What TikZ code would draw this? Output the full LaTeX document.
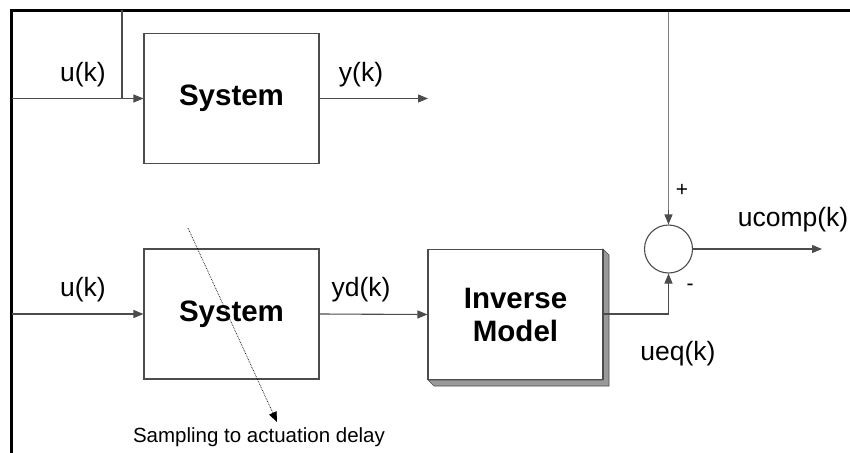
\documentclass[tikz,border=0pt]{standalone}
\usepackage{fontspec}
\setmainfont{Liberation Sans}
\usetikzlibrary{arrows.meta}
\begin{document}
\begin{tikzpicture}[x=1pt,y=-1pt,
  wire/.style={draw=black!70,line width=1.1pt},
  arr/.style={wire,-{Triangle[length=10pt,width=8pt]}},
  blk/.style={draw=black!70,line width=1.1pt,fill=white,minimum width=175pt,minimum height=130pt,inner sep=0pt,font=\fontsize{29.5}{33}\selectfont\bfseries,align=center},
  lbl/.style={font=\fontsize{26.5}{30}\selectfont,inner sep=0pt},
  frame/.style={line width=3pt,line cap=rect}]
\useasboundingbox (0,0) rectangle (850,452);
% frame lines
\draw[frame] (11,452) -- (11,10.5) -- (852,10.5);
% systems
\node[blk] (sys1) at (231.5,98.5) {System};
\node[blk] (sys2) at (231.5,314) {System};
% inverse model with shadow
\fill[black!40,draw=black!70,line width=0.6pt] (603,249) -- (609,255) -- (609,386) -- (434,386) -- (428,380) -- (603,380) -- cycle;
\node[blk] (inv) at (515.5,314.5) {Inverse\\Model};
% sum
\node[draw=black!70,line width=1.1pt,circle,minimum size=48pt,inner sep=0pt] (sum) at (668.5,249) {};
% coordinates
\coordinate (in1) at (12,98.5);
\coordinate (br) at (122,98.5);
\coordinate (brtop) at (122,10);
\coordinate (ytop) at (668.5,12);
\coordinate (ymid) at (668.5,210);
\coordinate (yout) at (428,98.5);
\coordinate (in2) at (12,314);
\coordinate (ucorner) at (668.5,314);
\coordinate (uout) at (822,249);
\coordinate (ds) at (188,228);
\coordinate (de) at (277,422);
% connectors
\draw[arr] (in1) -- (sys1.west);
\draw[wire] (br) -- (brtop);
\draw[arr] (sys1.east) -- (yout);
\draw[draw=black!50,line width=1.8pt] (ytop) -- (ymid);
\draw[arr] (ymid) -- (sum.north);
\draw[arr] (in2) -- (sys2.west);
\draw[arr] (sys2.east) -- (inv.west);
\draw[arr] (inv.east |- ucorner) -- (ucorner) -- (sum.south);
\draw[arr] (sum.east) -- (uout);
\draw[black,line width=0.7pt,densely dotted,-{Triangle[length=10pt,width=8pt]}] (ds) -- (de);
% labels
\node[lbl] (l1) at (83,75) {u(k)};
\node[lbl] (l2) at (361,75) {y(k)};
\node[lbl] (l3) at (83,290) {u(k)};
\node[lbl] (l4) at (361,290) {yd(k)};
\node[lbl] (l5) at (678,354) {ueq(k)};
\node[lbl] (l6) at (793,220) {ucomp(k)};
\node[font=\fontsize{21}{24}\selectfont,inner sep=0pt] (pl) at (682,190) {+};
\node[font=\fontsize{21}{24}\selectfont,inner sep=0pt] (mi) at (690,287) {-};
\node[font=\fontsize{20.5}{24}\selectfont,inner sep=0pt] (cap) at (259,437) {Sampling to actuation delay};
\end{tikzpicture}
\end{document}
